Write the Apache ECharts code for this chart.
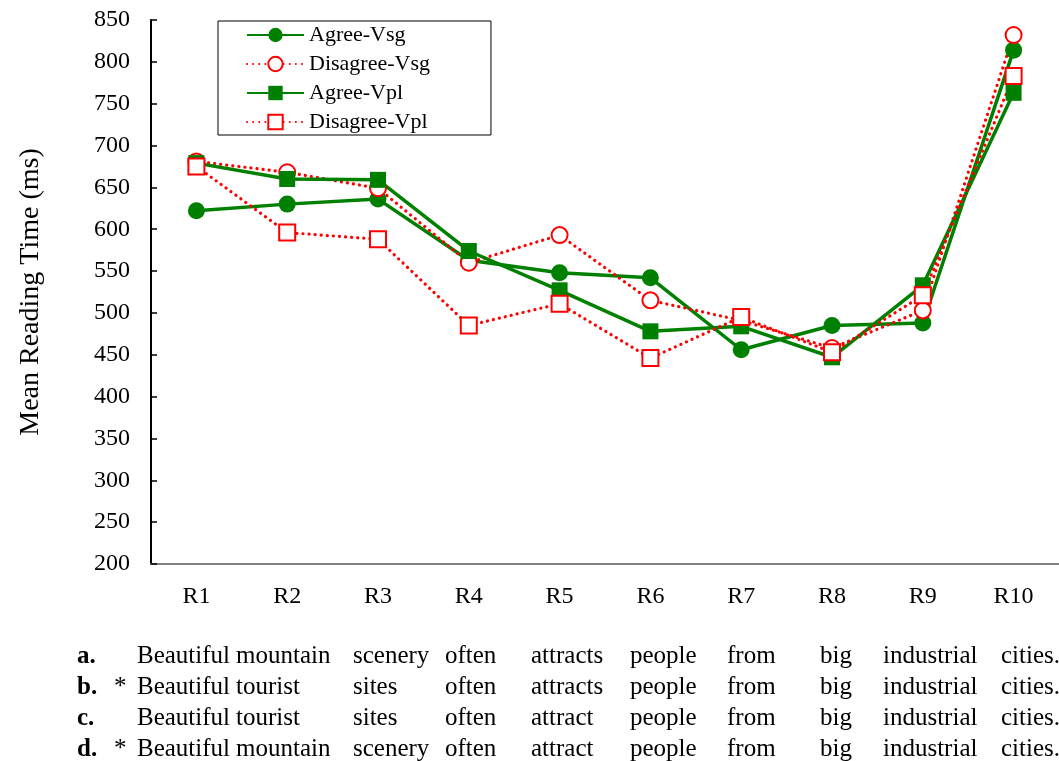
<!DOCTYPE html>
<html>
<head>
<meta charset="utf-8">
<script src="https://cdn.jsdelivr.net/npm/echarts@6/dist/echarts.min.js"></script>
<style>
html,body{margin:0;padding:0;background:#fff;}
#c{width:1059px;height:761px;}
</style>
</head>
<body>
<div id="c"></div>
<script>
// ---- data ----
var categories = ['R1','R2','R3','R4','R5','R6','R7','R8','R9','R10'];
var seriesNames = ['Agree-Vsg','Disagree-Vsg','Agree-Vpl','Disagree-Vpl'];
var agreeVsg    = [622, 630, 636, 563, 548, 542, 456, 485, 488, 814];
var disagreeVsg = [681, 668, 649, 560, 593, 515, 491, 458, 503, 832];
var agreeVpl    = [679, 660, 659, 574, 527, 478, 484, 447, 533, 763];
var disagreeVpl = [675, 596, 588, 485, 511, 446, 495, 453, 521, 783];
var yMin = 200, yMax = 850, yStep = 50;
var yAxisTitle = 'Mean Reading Time (ms)';
var rowLabels = ['a.','b.','c.','d.'];
var rowStars  = ['', '*', '', '*'];
var rowWords = [
  ['Beautiful','mountain','scenery','often','attracts','people','from','big','industrial','cities.'],
  ['Beautiful','tourist','sites','often','attracts','people','from','big','industrial','cities.'],
  ['Beautiful','tourist','sites','often','attract','people','from','big','industrial','cities.'],
  ['Beautiful','mountain','scenery','often','attract','people','from','big','industrial','cities.']
];

// ---- layout / style ----
var FONT = "'Liberation Serif','Times New Roman',serif";
var GREEN = '#008000', RED = '#ff0000';
var colX = [137, 236, 353, 445, 531, 630, 727, 820, 883, 1001];
var rowY = [658, 689, 720, 751];

var graphics = [];
for (var r = 0; r < rowWords.length; r++) {
  graphics.push({type:'text', left:77, top:rowY[r]-14, style:{text:rowLabels[r], font:'bold 25px '+FONT, fill:'#000'}});
  if (rowStars[r]) graphics.push({type:'text', left:114, top:rowY[r]-14, style:{text:rowStars[r], font:'25px '+FONT, fill:'#000'}});
  for (var w = 0; w < rowWords[r].length; w++) {
    graphics.push({type:'text', left:colX[w], top:rowY[r]-14, style:{text:rowWords[r][w], font:'25px '+FONT, fill:'#000'}});
  }
}

function dotted(color){ return {color:color, width:3.2, type:[0.1,6], cap:'round'}; }

var chart = echarts.init(document.getElementById('c'), null, {renderer:'canvas'});
chart.setOption({
  animation:false,
  backgroundColor:'#fff',
  textStyle:{fontFamily:FONT},
  grid:{left:151, top:20, bottom:197, width:911, containLabel:false},
  legend:{
    left:218, top:21, orient:'vertical',
    data:seriesNames,
    itemWidth:57, itemHeight:18, itemGap:7,
    padding:[3,61,2,28],
    borderColor:'#000', borderWidth:1, borderRadius:0,
    textStyle:{fontFamily:FONT, fontSize:22, color:'#000'}
  },
  xAxis:{
    type:'category', data:categories, boundaryGap:true,
    axisLine:{lineStyle:{color:'#808080', width:2}},
    axisTick:{inside:true, length:7, lineStyle:{color:'#808080', width:1}},
    axisLabel:{fontFamily:FONT, fontSize:24, color:'#000', margin:21}
  },
  yAxis:{
    type:'value', min:yMin, max:yMax, interval:yStep,
    name:yAxisTitle, nameLocation:'middle', nameGap:106, nameRotate:90,
    nameTextStyle:{fontFamily:FONT, fontSize:28, color:'#000'},
    axisLine:{show:true, lineStyle:{color:'#000', width:2}},
    axisTick:{show:true, inside:true, length:6, lineStyle:{color:'#000', width:1.5}},
    axisLabel:{fontFamily:FONT, fontSize:24, color:'#000', margin:21},
    splitLine:{show:false}
  },
  graphic:graphics,
  series:[
    {name:seriesNames[0], type:'line', data:agreeVsg, symbol:'circle', symbolSize:17,
     lineStyle:{color:GREEN, width:3.5}, itemStyle:{color:GREEN}},
    {name:seriesNames[1], type:'line', data:disagreeVsg, symbol:'emptyCircle', symbolSize:16,
     lineStyle:dotted(RED), itemStyle:{color:RED, borderWidth:2}},
    {name:seriesNames[2], type:'line', data:agreeVpl, symbol:'rect', symbolSize:16,
     lineStyle:{color:GREEN, width:3.5}, itemStyle:{color:GREEN}},
    {name:seriesNames[3], type:'line', data:disagreeVpl, symbol:'emptyRect', symbolSize:16,
     lineStyle:dotted(RED), itemStyle:{color:RED, borderWidth:2}}
  ]
});
</script>
</body>
</html>
